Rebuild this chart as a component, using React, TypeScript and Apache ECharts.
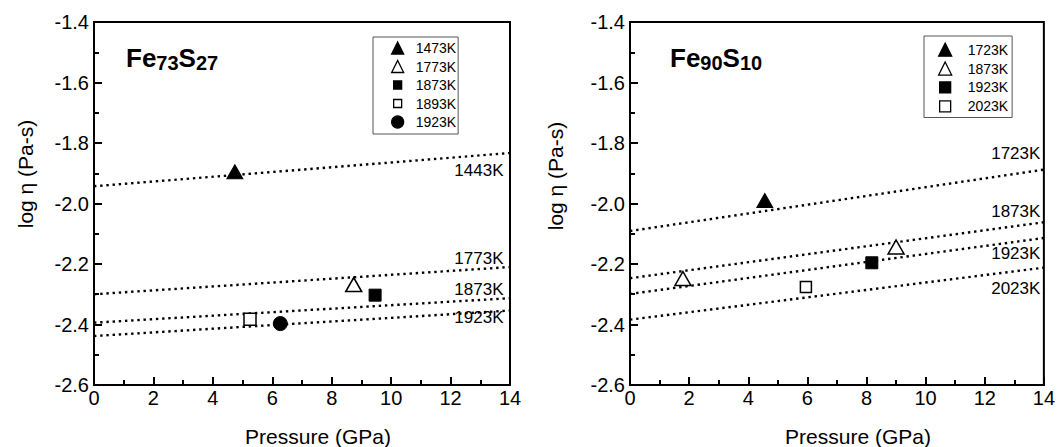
import React, { useEffect, useRef } from 'react';
import * as echarts from 'echarts';

const FONT = '"Liberation Sans", Arial, Helvetica, sans-serif';

// ---------- Fe73S27 (left panel) ----------
const leftTemps = ['1473K', '1773K', '1873K', '1893K', '1923K'];
const leftPressure = [4.74, 8.74, 9.46, 5.25, 6.27];
const leftLogEta = [-1.895, -2.268, -2.303, -2.383, -2.397];

const fitPressure = [0, 14];
const leftFitTemps = ['1443K', '1773K', '1873K', '1923K'];
const leftFitStart = [-1.943, -2.3, -2.394, -2.438];
const leftFitEnd = [-1.833, -2.21, -2.313, -2.354];

// ---------- Fe90S10 (right panel) ----------
const rightTemps = ['1723K', '1873K', '1923K', '2023K'];
const rightPressure = [[4.56], [1.79, 9.0], [8.18], [5.95]];
const rightLogEta = [[-1.99], [-2.248, -2.144], [-2.196], [-2.276]];

const rightFitTemps = ['1723K', '1873K', '1923K', '2023K'];
const rightFitStart = [-2.091, -2.247, -2.299, -2.384];
const rightFitEnd = [-1.888, -2.062, -2.114, -2.212];

// axis ticks
const xMin = 0, xMax = 14, xStep = 2;
const yMin = -2.6, yMax = -1.4, yStep = 0.2;

// ---------- styles (not data) ----------
const leftSymbols = ['triangle', 'triangle', 'rect', 'rect', 'circle'];
const leftFilled = [true, false, true, false, true];
const leftSizes: any[] = [[16, 14], [16, 14], 12, 12, 14];
const rightSymbols = ['triangle', 'triangle', 'rect', 'rect'];
const rightFilled = [true, false, true, false];
const rightSizes: any[] = [[16, 14], [16, 14], 12, 11];
const leftLabelDy = [17.5, -8.5, -8.5, 7];
const rightLabelDy = [-16.5, -11, 16, 21];

const squareIconL = 'path://M0,0M12,12M2,2L10,2L10,10L2,10Z';
const squareIconR = 'path://M0,0M13,13M1,1L12,1L12,12L1,12Z';

function markerStyle(filled: boolean) {
  return filled
    ? { color: '#000', borderColor: '#000', borderWidth: 1, opacity: 1 }
    : { color: '#fff', borderColor: '#000', borderWidth: 1.5, opacity: 1 };
}

function axesFor(gridIndex: number) {
  const common = () => ({
    gridIndex,
    type: 'value',
    z: 6,
    axisLine: { show: true, onZero: false, lineStyle: { color: '#000', width: 2 } },
    axisTick: { show: true, inside: true, length: 8, lineStyle: { color: '#000', width: 2 } },
    minorTick: { show: true, splitNumber: 2, length: 5, lineStyle: { color: '#000', width: 2 } },
    splitLine: { show: false },
    minorSplitLine: { show: false },
  });
  return {
    x: {
      ...common(),
      min: xMin,
      max: xMax,
      interval: xStep,
      axisLabel: { fontSize: 20, color: '#000', fontFamily: FONT, margin: 3 },
    },
    y: {
      ...common(),
      min: yMin,
      max: yMax,
      interval: yStep,
      axisLabel: {
        fontSize: 20,
        color: '#000',
        fontFamily: FONT,
        margin: 5,
        formatter: (v: number) => v.toFixed(1),
      },
    },
  };
}

function fitSeries(idx: number, temps: string[], starts: number[], ends: number[]) {
  return temps.map((t, i) => ({
    type: 'line',
    name: 'fit' + idx + ':' + t,
    xAxisIndex: idx,
    yAxisIndex: idx,
    data: [
      [fitPressure[0], starts[i]],
      [fitPressure[1], ends[i]],
    ],
    showSymbol: false,
    symbol: 'none',
    silent: true,
    z: 2,
    lineStyle: { color: '#000', width: 2.4, type: [2.4, 3.8], cap: 'butt', opacity: 1 },
  }));
}

function labelSeries(idx: number, temps: string[], ends: number[], dys: number[], dist: number) {
  return {
    type: 'scatter',
    name: 'lab' + idx,
    xAxisIndex: idx,
    yAxisIndex: idx,
    symbolSize: 1,
    silent: true,
    z: 4,
    itemStyle: { color: 'rgba(0,0,0,0)', opacity: 1 },
    label: {
      show: true,
      position: 'left',
      distance: dist,
      formatter: '{b}',
      fontSize: 17,
      color: '#000',
      opacity: 1,
      fontFamily: FONT,
    },
    data: temps.map((t, i) => ({
      name: t,
      value: [fitPressure[1], ends[i]],
      label: { offset: [0, dys[i]] },
    })),
  };
}

export default function App() {
  const ref = useRef<HTMLDivElement>(null);

  useEffect(() => {
    document.body.style.margin = '0';
    if (!ref.current) return;
    const chart = echarts.init(ref.current, null, { renderer: 'svg' });

    const a0 = axesFor(0);
    const a1 = axesFor(1);

    const leftScatter = leftTemps.map((t, i) => ({
      type: 'scatter',
      name: 'L:' + t,
      xAxisIndex: 0,
      yAxisIndex: 0,
      symbol: leftSymbols[i],
      symbolSize: leftSizes[i],
      z: 3,
      itemStyle: markerStyle(leftFilled[i]),
      data: [[leftPressure[i], leftLogEta[i]]],
    }));

    const rightScatter = rightTemps.map((t, i) => ({
      type: 'scatter',
      name: 'R:' + t,
      xAxisIndex: 1,
      yAxisIndex: 1,
      symbol: rightSymbols[i],
      symbolSize: rightSizes[i],
      z: 3,
      itemStyle: markerStyle(rightFilled[i]),
      data: rightPressure[i].map((p, j) => [p, rightLogEta[i][j]]),
    }));

    const legendCommon = {
      orient: 'vertical',
      borderColor: '#555',
      borderWidth: 1,
      backgroundColor: '#fff',
      selectedMode: false,
      itemStyle: { borderWidth: 1.3, opacity: 1 },
      formatter: (n: string) => n.split(':')[1],
    };

    const titleRich = {
      a: { fontSize: 26, fontWeight: 'bold', fontFamily: FONT, lineHeight: 30, fill: '#000' },
      b: {
        fontSize: 20,
        fontWeight: 'bold',
        fontFamily: FONT,
        lineHeight: 22,
        verticalAlign: 'bottom',
        fill: '#000',
      },
    };

    const gridBase = {
      show: true,
      borderColor: '#000',
      borderWidth: 2,
      backgroundColor: 'transparent',
      z: 0,
    };

    const axisTitle = (x: number, y: number, text: string, rotate: boolean) => ({
      type: 'text',
      x,
      y,
      rotation: rotate ? Math.PI / 2 : 0,
      style: {
        text,
        fontSize: 21,
        fontFamily: FONT,
        fill: '#000',
        align: 'center',
        verticalAlign: 'middle',
      },
    });

    const option: any = {
      animation: false,
      backgroundColor: '#fff',
      grid: [
        { ...gridBase, left: 94, top: 22, width: 416, height: 363 },
        { ...gridBase, left: 630, top: 22, width: 415, height: 363 },
      ],
      xAxis: [a0.x, a1.x],
      yAxis: [a0.y, a1.y],
      legend: [
        {
          ...legendCommon,
          left: 373,
          top: 37,
          itemWidth: 12,
          itemHeight: 12,
          itemGap: 4.5,
          padding: [4, 2, 5, 18],
          textStyle: { fontSize: 14, color: '#000', fontFamily: FONT, padding: [0, 0, 0, 7] },
          data: leftTemps.map((t, i) =>
            leftSymbols[i] === 'rect' ? { name: 'L:' + t, icon: squareIconL } : { name: 'L:' + t }
          ),
        },
        {
          ...legendCommon,
          left: 924,
          top: 36,
          itemWidth: 13,
          itemHeight: 13,
          itemGap: 4.6,
          padding: [6.5, 4, 4, 14],
          textStyle: { fontSize: 14, color: '#000', fontFamily: FONT, padding: [0, 0, 0, 11] },
          data: rightTemps.map((t, i) =>
            rightSymbols[i] === 'rect' ? { name: 'R:' + t, icon: squareIconR } : { name: 'R:' + t }
          ),
        },
      ],
      graphic: [
        {
          type: 'text',
          x: 126,
          y: 43,
          style: { text: '{a|Fe}{b|73}{a|S}{b|27}', rich: titleRich, align: 'left', verticalAlign: 'top' },
        },
        {
          type: 'text',
          x: 670,
          y: 43,
          style: { text: '{a|Fe}{b|90}{a|S}{b|10}', rich: titleRich, align: 'left', verticalAlign: 'top' },
        },
        axisTitle(25, 174, 'log η (Pa-s)', true),
        axisTitle(555, 176, 'log η (Pa-s)', true),
        axisTitle(318, 436, 'Pressure (GPa)', false),
        axisTitle(858, 436, 'Pressure (GPa)', false),
      ],
      series: [
        ...fitSeries(0, leftFitTemps, leftFitStart, leftFitEnd),
        ...fitSeries(1, rightFitTemps, rightFitStart, rightFitEnd),
        ...leftScatter,
        ...rightScatter,
        labelSeries(0, leftFitTemps, leftFitEnd, leftLabelDy, 6),
        labelSeries(1, rightFitTemps, rightFitEnd, rightLabelDy, 3),
      ],
    };

    chart.setOption(option);
    return () => chart.dispose();
  }, []);

  return <div ref={ref} style={{ width: 1058, height: 447 }} />;
}
